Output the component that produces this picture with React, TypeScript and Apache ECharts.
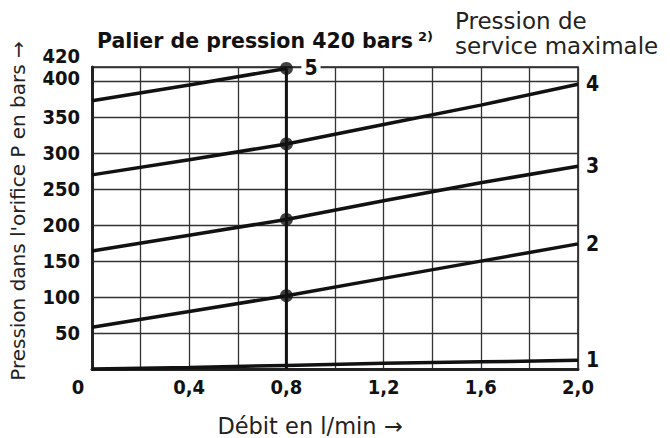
import React, { useEffect, useRef } from "react";
import * as echarts from "echarts";

const flow = [0, 0.4, 0.8, 1.2, 1.6, 2.0];
const curve1 = [0, 2, 5, 8, 10, 12];
const curve2 = [58, 80, 102, 126, 150, 174];
const curve3 = [164, 186, 208, 234, 259, 282];
const curve4 = [270, 291, 313, 340, 367, 396];
const flow5 = [0, 0.4, 0.8];
const curve5 = [373, 395, 418];
const curveNames = ["1", "2", "3", "4", "5"];
const markFlow = 0.8;

const numFont = "'DejaVu Sans Condensed', 'Liberation Sans', sans-serif";
const textFont = "'DejaVu Sans', sans-serif";

export default function App() {
  const ref = useRef<HTMLDivElement>(null);
  useEffect(() => {
    if (!ref.current) return;
    document.body.style.margin = "0";
    const chart = echarts.init(ref.current, undefined, { renderer: "svg" });
    const pair = (xs: number[], ys: number[]) => xs.map((x, i) => [x, ys[i]]);
    const idx = flow.indexOf(markFlow);
    const dots = [
      [markFlow, curve2[idx]],
      [markFlow, curve3[idx]],
      [markFlow, curve4[idx]],
      [markFlow, curve5[flow5.indexOf(markFlow)]],
    ];
    const lineStyle = { color: "#111", width: 3.5 };
    const endLabel = (name: string, extra: any = {}) => ({
      show: true,
      formatter: name,
      fontFamily: numFont,
      fontWeight: "bold",
      fontSize: 21,
      color: "#111",
      distance: 8,
      ...extra,
    });
    const curves = [curve1, curve2, curve3, curve4].map((c, i) => ({
      type: "line",
      data: pair(flow, c),
      showSymbol: false,
      lineStyle,
      endLabel: endLabel(curveNames[i]),
      z: 3,
    }));
    chart.setOption({
      animation: false,
      title: {
        text: "{b|Palier de pression 420 bars} {s|2)}",
        left: 97,
        top: 30,
        padding: 0,
        textStyle: {
          rich: {
            b: { fontFamily: textFont, fontWeight: "bold", fontSize: 20.5, color: "#111", lineHeight: 22 },
            s: { fontFamily: textFont, fontWeight: "bold", fontSize: 13, color: "#111", padding: [0, 0, 9, 0] },
          },
        },
      },
      graphic: [
        {
          type: "text",
          left: 455,
          top: 8,
          style: {
            text: "Pression de\nservice maximale",
            font: `23px ${textFont}`,
            fill: "#222",
            lineHeight: 25,
          },
        },
      ],
      grid: {
        left: 92,
        right: 92,
        top: 67,
        bottom: 69,
        show: true,
        borderColor: "#222",
        borderWidth: 1.6,
        outerBoundsMode: "none",
        containLabel: false,
      },
      xAxis: {
        type: "value",
        min: 0,
        max: 2,
        interval: 0.2,
        name: "Débit en l/min →",
        nameLocation: "middle",
        nameGap: 45,
        nameTextStyle: { fontFamily: textFont, fontSize: 22.5, color: "#222", padding: [0, 50, 0, 0] },
        axisLine: { show: true, lineStyle: { color: "#222", width: 3 } },
        axisTick: { show: false },
        splitLine: { show: true, lineStyle: { color: "#333", width: 1.3 } },
        axisLabel: {
          margin: 8,
          fontFamily: numFont,
          fontWeight: "bold",
          fontSize: 20,
          color: "#111",
          formatter: (v: number) => {
            const t = Math.round(v * 10);
            if (t % 4 !== 0) return "";
            return t === 0 ? "{z|0}" : (t / 10).toFixed(1).replace(".", ",");
          },
          rich: {
            z: { fontFamily: numFont, fontWeight: "bold", fontSize: 20, color: "#111", padding: [0, 28, 0, 0] },
          },
        },
      },
      yAxis: {
        type: "value",
        min: 0,
        max: 420,
        interval: 50,
        name: "Pression dans l'orifice P en bars →",
        nameLocation: "middle",
        nameGap: 64,
        nameTextStyle: { fontFamily: textFont, fontSize: 20, color: "#222", padding: [0, 0, 0, 14] },
        axisLine: { show: true, lineStyle: { color: "#222", width: 3 } },
        axisTick: { show: false },
        splitLine: { show: true, lineStyle: { color: "#333", width: 1.3 } },
        axisLabel: {
          margin: 12,
          fontFamily: numFont,
          fontWeight: "bold",
          fontSize: 20,
          color: "#111",
          formatter: (v: number) => {
            if (v === 0) return "";
            if (v === 420) return "{t|420}";
            if (v === 400) return "{f|400}";
            return String(v);
          },
          rich: {
            t: { fontFamily: numFont, fontWeight: "bold", fontSize: 20, color: "#111", padding: [0, 0, 22, 0] },
            f: { fontFamily: numFont, fontWeight: "bold", fontSize: 20, color: "#111", padding: [0, 0, 6, 0] },
          },
        },
      },
      series: [
        ...curves,
        {
          type: "line",
          data: pair(flow5, curve5),
          showSymbol: false,
          lineStyle,
          endLabel: endLabel(curveNames[4], {
            backgroundColor: "#fff",
            padding: [0, 3, 0, 3],
            distance: 15,
            offset: [0, 0],
          }),
          z: 3,
        },
        {
          type: "line",
          data: [
            [markFlow, 0],
            [markFlow, curve5[flow5.indexOf(markFlow)]],
          ],
          showSymbol: false,
          lineStyle: { color: "#111", width: 3 },
          z: 3,
        },
        {
          type: "scatter",
          data: dots,
          symbolSize: 13,
          itemStyle: { color: "#111" },
          z: 4,
        },
      ],
    });
    return () => chart.dispose();
  }, []);
  return <div ref={ref} style={{ width: 670, height: 438 }} />;
}
